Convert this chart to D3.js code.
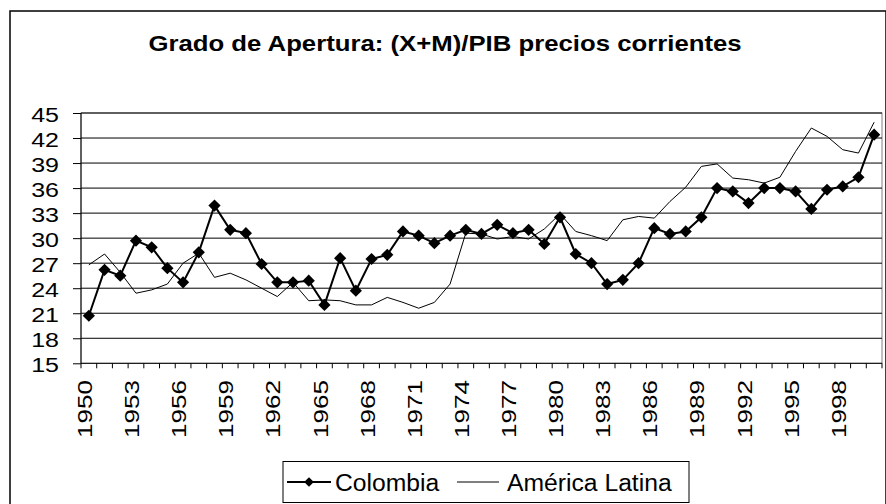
<!DOCTYPE html>
<html>
<head>
<meta charset="utf-8">
<script src="https://cdn.jsdelivr.net/npm/d3@7"></script>
<style>
  body { margin: 0; background: #fff; }
  svg { display: block; }
  text { font-family: "Liberation Sans", Arial, sans-serif; fill: #000; }
</style>
</head>
<body>
<script>
// years 1950..2000
let years = [];
for (let yr = 1950; yr <= 2000; yr++) years.push(yr);

// Grado de apertura, Colombia
let colombia = [20.7, 26.2, 25.5, 29.7, 28.9, 26.4, 24.7, 28.3, 33.9, 31.0,
                30.6, 26.9, 24.7, 24.7, 24.9, 22.0, 27.6, 23.7, 27.5, 28.0,
                30.8, 30.3, 29.4, 30.3, 31.0, 30.5, 31.6, 30.6, 31.0, 29.3,
                32.5, 28.1, 27.0, 24.5, 25.0, 27.0, 31.2, 30.5, 30.8, 32.5,
                36.0, 35.6, 34.2, 36.0, 36.0, 35.6, 33.5, 35.8, 36.2, 37.3, 42.4];

// America Latina
let latam = [26.8, 28.1, 25.9, 23.4, 23.8, 24.5, 27.0, 28.2, 25.3, 25.8,
             25.0, 24.0, 23.0, 24.7, 22.5, 22.6, 22.5, 22.0, 22.0, 22.9,
             22.3, 21.6, 22.3, 24.5, 30.6, 30.5, 29.9, 30.2, 29.9, 31.1,
             32.9, 30.8, 30.3, 29.7, 32.2, 32.6, 32.4, 34.4, 36.1, 38.6,
             38.9, 37.2, 37.0, 36.6, 37.3, 40.4, 43.2, 42.2, 40.6, 40.2, 43.9];

let yTicks = [15, 18, 21, 24, 27, 30, 33, 36, 39, 42, 45];
let labelYears = years.filter(yr => (yr - 1950) % 3 === 0 && yr <= 1998);

let width = 886, height = 504;
let pLeft = 81, pRight = 882, pTop = 113, pBottom = 363.3;

let svg = d3.select("body").append("svg")
  .attr("width", width)
  .attr("height", height);

// outer chart border
svg.append("rect")
  .attr("x", 10).attr("y", 11)
  .attr("width", 876).attr("height", 520)
  .attr("fill", "#fff")
  .attr("stroke", "#000")
  .attr("stroke-width", 1.5);

// title
svg.append("text")
  .attr("transform", "translate(445,51) scale(1.17,1)")
  .attr("text-anchor", "middle")
  .style("font-size", "22px")
  .style("font-weight", "bold")
  .text("Grado de Apertura: (X+M)/PIB precios corrientes");

let x = d3.scaleBand().domain(years).range([pLeft, pRight]).padding(0);
let y = d3.scaleLinear().domain([15, 45]).range([pBottom, pTop]);

// plot area frame
svg.append("rect")
  .attr("x", pLeft).attr("y", pTop)
  .attr("width", pRight - pLeft).attr("height", pBottom - pTop)
  .attr("fill", "none")
  .attr("stroke", "#808080");

// gridlines
svg.append("g").selectAll("line")
  .data(yTicks.filter(t => t !== 15))
  .join("line")
  .attr("x1", pLeft).attr("x2", pRight)
  .attr("y1", d => y(d)).attr("y2", d => y(d))
  .attr("stroke", "#000")
  .attr("stroke-width", 1);

// y axis
let yAxis = svg.append("g")
  .attr("transform", "translate(" + pLeft + ",0)")
  .call(d3.axisLeft(y).tickValues(yTicks).tickSize(8).tickPadding(0).tickFormat(""));
yAxis.selectAll("path, line").attr("stroke", "#000");
yAxis.select(".domain").attr("d", "M0," + pTop + "V" + pBottom);

svg.append("g").selectAll("text")
  .data(yTicks)
  .join("text")
  .attr("transform", d => "translate(59," + (y(d) + 2) + ") scale(1.25,1)")
  .attr("text-anchor", "end")
  .attr("dominant-baseline", "central")
  .style("font-size", "20px")
  .text(d => d);

// x axis: ticks on category boundaries
let bounds = years.map(d => x(d)).concat([pRight]);
let xAxis = svg.append("g");
xAxis.append("line")
  .attr("x1", pLeft).attr("x2", pRight)
  .attr("y1", pBottom).attr("y2", pBottom)
  .attr("stroke", "#000");
xAxis.selectAll("line.tick")
  .data(bounds)
  .join("line")
  .attr("class", "tick")
  .attr("x1", d => d).attr("x2", d => d)
  .attr("y1", pBottom).attr("y2", pBottom + 5)
  .attr("stroke", "#000");

xAxis.selectAll("text")
  .data(labelYears)
  .join("text")
  .attr("transform", d => "translate(" + (x(d) + x.bandwidth() / 2 - 4) + ",380) rotate(-90) scale(1.24,1)")
  .attr("text-anchor", "end")
  .attr("dominant-baseline", "central")
  .style("font-size", "21px")
  .text(d => d);

let cx = (d, i) => x(years[i]) + x.bandwidth() / 2;

// America Latina line
svg.append("path")
  .datum(latam)
  .attr("fill", "none")
  .attr("stroke", "#000")
  .attr("stroke-width", 1)
  .attr("d", d3.line().x(cx).y(d => y(d)));

// Colombia line + diamonds
svg.append("path")
  .datum(colombia)
  .attr("fill", "none")
  .attr("stroke", "#000")
  .attr("stroke-width", 2)
  .attr("d", d3.line().x(cx).y(d => y(d)));

let diamond = d3.symbol().type(d3.symbolDiamond2).size(95);
svg.append("g").selectAll("path")
  .data(colombia)
  .join("path")
  .attr("transform", (d, i) => "translate(" + cx(d, i) + "," + y(d) + ")")
  .attr("d", diamond)
  .attr("fill", "#000");

// legend
let lg = svg.append("g");
lg.append("rect")
  .attr("x", 283).attr("y", 461.5)
  .attr("width", 406).attr("height", 41)
  .attr("fill", "#fff")
  .attr("stroke", "#000");
lg.append("line")
  .attr("x1", 287).attr("x2", 331).attr("y1", 482).attr("y2", 482)
  .attr("stroke", "#000").attr("stroke-width", 2);
lg.append("path")
  .attr("transform", "translate(309,482)")
  .attr("d", d3.symbol().type(d3.symbolDiamond2).size(60))
  .attr("fill", "#000");
lg.append("text")
  .attr("x", 335).attr("y", 491)
  .style("font-size", "24.7px")
  .text("Colombia");
lg.append("line")
  .attr("x1", 457).attr("x2", 499).attr("y1", 482).attr("y2", 482)
  .attr("stroke", "#000").attr("stroke-width", 1);
lg.append("text")
  .attr("x", 507).attr("y", 491)
  .style("font-size", "24.7px")
  .text("América Latina");
</script>
</body>
</html>
